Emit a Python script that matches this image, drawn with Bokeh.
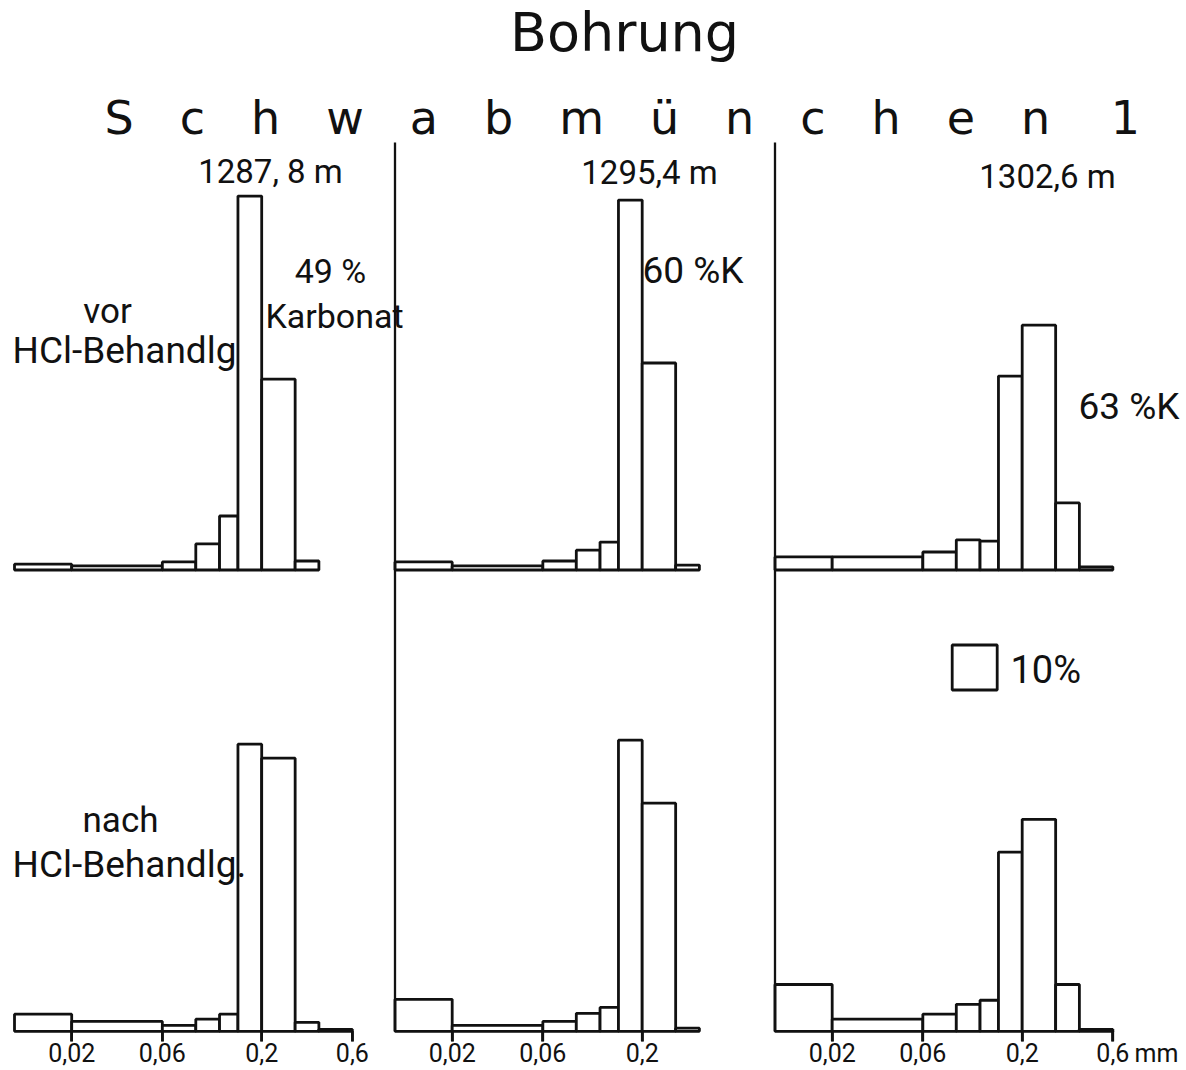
from bokeh.plotting import figure
from bokeh.models import (Range1d, LogScale, LogAxis, FixedTicker,
                          CustomJSTickFormatter, Label)
from bokeh.embed import file_html
from bokeh.resources import INLINE

# ---------------- data ----------------
# grain-size class limits (mm), log scale
bin_edges = [0.01, 0.02, 0.06, 0.09, 0.12, 0.15, 0.2, 0.3, 0.4, 0.6]

depth_labels = ["1287, 8 m", "1295,4 m", "1302,6 m"]
carbonate_labels = ["49 %", "60 %K", "63 %K"]

# frequency density (% per width of the 10 % key square), one value per class
vor_1287 = [1.3, 0.9, 1.8, 5.8, 12.0, 83.1, 42.4, 2.0, 0.0]
vor_1295 = [1.8, 0.9, 2.0, 4.4, 6.2, 82.2, 46.0, 1.1, 0.0]
vor_1302 = [2.9, 2.9, 4.0, 6.7, 6.4, 43.1, 54.4, 14.9, 0.7]

nach_1287 = [3.8, 2.2, 1.3, 2.7, 3.8, 63.8, 60.7, 2.0, 0.4]
nach_1295 = [7.1, 1.3, 2.2, 4.0, 5.3, 64.7, 50.7, 0.7, 0.0]
nach_1302 = [10.4, 2.7, 3.8, 6.0, 6.9, 39.8, 47.1, 10.4, 0.4]

tick_values = [[0.02, 0.06, 0.2, 0.6], [0.02, 0.06, 0.2], [0.02, 0.06, 0.2, 0.6]]
tick_text = {0.02: "0,02", 0.06: "0,06", 0.2: "0,2", 0.6: "0,6"}
key_percent = 10

rows = [[vor_1287, vor_1295, vor_1302], [nach_1287, nach_1295, nach_1302]]

# ---------------- layout ----------------
W, H = 1186, 1070
OX, OY = 0, 0
col_x0 = [14, 394.5, 774.5]      # page x of 0.01 mm in each column
PX_PER_DEC = 190.0
row_base = [569.5, 1030.8]       # page y of the baselines
PX_PER_UNIT = 4.5
SEP_TOP = 142
TICK_LEN = 10

INK = "#111111"
NUM_FONT = "Roboto"
TITLE_FONT = "DejaVu Sans"

p = figure(width=W, height=H, output_backend="svg", toolbar_location=None,
           x_range=Range1d(OX, OX + W), y_range=Range1d(OY + H, OY),
           x_axis_location=None, y_axis_location=None, min_border=0)
p.outline_line_color = None
p.grid.visible = False
p.background_fill_color = "white"
p.border_fill_color = "white"

xr, xs, yr = {}, {}, {}
for i, x0 in enumerate(col_x0):
    xr[f"c{i}"] = Range1d(10 ** (-2 + (OX - x0) / PX_PER_DEC),
                          10 ** (-2 + (OX + W - x0) / PX_PER_DEC))
    xs[f"c{i}"] = LogScale()
for j, b in enumerate(row_base):
    yr[f"r{j}"] = Range1d((b - (OY + H)) / PX_PER_UNIT, (b - OY) / PX_PER_UNIT)
p.extra_x_ranges = xr
p.extra_x_scales = xs
p.extra_y_ranges = yr

# grain-size axes under the lower row (labels only; marks drawn below)
for c, ticks in enumerate(tick_values):
    ax = LogAxis(x_range_name=f"c{c}", ticker=FixedTicker(ticks=ticks),
                 formatter=CustomJSTickFormatter(code="return String(tick).replace('.', ',');"),
                 major_label_overrides={t: tick_text[t] for t in ticks},
                 fixed_location=row_base[1])
    ax.axis_line_color = None
    ax.major_tick_in = 0
    ax.major_tick_out = TICK_LEN
    ax.major_tick_line_width = 2.6
    ax.major_tick_line_color = INK
    ax.minor_tick_line_color = None
    ax.major_label_text_font = NUM_FONT
    ax.major_label_text_font_size = "25px"
    ax.major_label_text_color = INK
    ax.major_label_standoff = 2
    p.add_layout(ax, "below")

# tick marks hanging from the baseline of the lower row
for c, ticks in enumerate(tick_values):
    p.segment(x0=ticks, x1=ticks, y0=[row_base[1]] * len(ticks),
              y1=[row_base[1] + TICK_LEN] * len(ticks), x_range_name=f"c{c}",
              line_color=INK, line_width=2.6)

# histograms
for r, row in enumerate(rows):
    for c, heights in enumerate(row):
        idx = [k for k, h in enumerate(heights) if h > 0]
        p.quad(left=[bin_edges[k] for k in idx],
               right=[bin_edges[k + 1] for k in idx],
               bottom=[0] * len(idx),
               top=[heights[k] for k in idx],
               x_range_name=f"c{c}", y_range_name=f"r{r}",
               fill_color="white", line_color=INK, line_width=2.8)

# column separators (left edge of columns 2 and 3)
for c in (1, 2):
    p.segment(x0=[bin_edges[0]], x1=[bin_edges[0]], y0=[SEP_TOP], y1=[row_base[1]],
              x_range_name=f"c{c}", line_color=INK, line_width=2.3)

# key square: 10 %
key_col, key_row = 2, 1
key_left = 10 ** (-2 + (951.7 - col_x0[key_col]) / PX_PER_DEC)
key_right = key_left * 10 ** (key_percent * PX_PER_UNIT / PX_PER_DEC)
key_bottom = (row_base[1] - 689.5) / PX_PER_UNIT
p.quad(left=[key_left], right=[key_right], bottom=[key_bottom],
       top=[key_bottom + key_percent], x_range_name=f"c{key_col}",
       y_range_name=f"r{key_row}", fill_color="white", line_color=INK,
       line_width=2.8)


def lab(text, x, base, size, align="left", font=NUM_FONT):
    # place by baseline: vertical middle of the font box sits ~0.34 em above it
    p.add_layout(Label(x=x, y=base - 0.34 * size, text=text, text_font=font,
                       text_font_size=f"{size}px", text_align=align,
                       text_baseline="middle", text_color=INK))


lab("Bohrung", 624, 50, 54, "center", TITLE_FONT)
lab("\u2003".join(list("Schwabmünchen")) + "\u2003 1", 104, 133, 46, "left", TITLE_FONT)

lab(depth_labels[0], 270, 182, 33, "center")
lab(depth_labels[1], 649, 183, 33, "center")
lab(depth_labels[2], 1047, 187, 33, "center")

lab(carbonate_labels[0], 330, 282, 34, "center")
lab("Karbonat", 334, 327, 34, "center")
lab(carbonate_labels[1], 642, 283, 37, "left")
lab(carbonate_labels[2], 1078, 419, 37, "left")

lab("vor", 107, 323, 35, "center")
lab("HCl-Behandlg", 12, 363, 37, "left")
lab("nach", 120, 832, 35, "center")
lab("HCl-Behandlg.", 12, 877, 37, "left")

lab(f"{key_percent}%", 1010, 682, 38, "left")
lab("mm", 1134, 1061, 25, "left")

open("out.html", "w").write(file_html(p, INLINE))
